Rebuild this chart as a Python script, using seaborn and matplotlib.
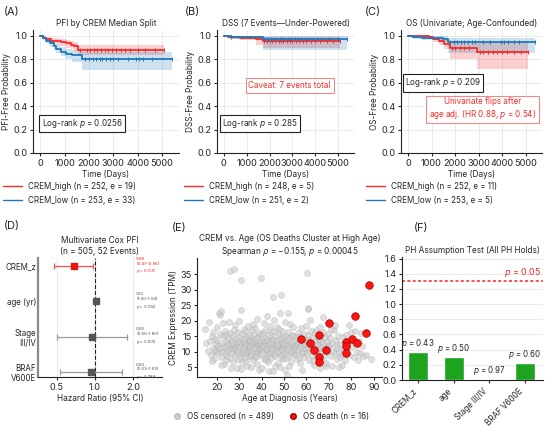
import numpy as np
import pandas as pd
import matplotlib
matplotlib.use("Agg")
import matplotlib.pyplot as plt
from matplotlib.lines import Line2D
import seaborn as sns

# ---------------- data ----------------
# (A) PFI Kaplan-Meier
pfi_high_t = [0, 100, 250, 450, 650, 850, 1050, 1250, 1400, 1550]
pfi_high_s = [1.0, 0.985, 0.97, 0.96, 0.955, 0.945, 0.935, 0.925, 0.91, 0.88]
pfi_high_lo = [1.0, 0.97, 0.95, 0.935, 0.925, 0.912, 0.90, 0.888, 0.872, 0.84]
pfi_high_hi = [1.0, 1.0, 0.99, 0.984, 0.981, 0.975, 0.968, 0.96, 0.948, 0.922]
pfi_high_cens = [1650, 1900, 2050, 2200, 2350, 2500, 2650, 2800, 2950, 3100, 3300, 3500, 3700, 4000, 4300, 4700, 5100]
pfi_low_t = [0, 100, 250, 400, 550, 650, 850, 1050, 1300, 1700]
pfi_low_s = [1.0, 0.98, 0.96, 0.935, 0.91, 0.89, 0.865, 0.845, 0.835, 0.80]
pfi_low_lo = [1.0, 0.963, 0.937, 0.906, 0.877, 0.853, 0.825, 0.803, 0.78, 0.71]
pfi_low_hi = [1.0, 0.995, 0.982, 0.962, 0.942, 0.925, 0.905, 0.888, 0.88, 0.862]
pfi_low_cens = [1850, 2000, 2150, 2300, 2450, 2550, 2700, 2850, 3000, 3200, 3600, 3950, 4050, 4200, 4600, 5400]

# (B) DSS
dss_high_t = [0, 200, 700, 1400, 1700]
dss_high_s = [1.0, 0.992, 0.984, 0.972, 0.96]
dss_high_lo = [1.0, 0.977, 0.962, 0.925, 0.90]
dss_high_hi = [1.0, 1.0, 1.0, 0.995, 0.99]
dss_high_cens = [1750, 1900, 2000, 2100, 2250, 2400, 2500, 2600, 2750, 2900, 3000, 3150, 3300, 3450, 3600, 3800, 4000, 4200, 4500, 4800, 5100]
dss_low_t = [0, 300, 1700]
dss_low_s = [1.0, 0.992, 0.976]
dss_low_lo = [1.0, 0.977, 0.88]
dss_low_hi = [1.0, 1.0, 0.995]
dss_low_cens = [300, 1750, 1850, 1950, 2050, 2150, 2300, 2450, 2550, 2650, 2800, 2950, 3100, 3250, 3400, 3550, 3700, 3900, 4100, 4300, 4600, 5000, 5400]

# (C) OS
os_high_t = [0, 150, 900, 1050, 1300, 1550, 1800, 2950]
os_high_s = [1.0, 0.995, 0.99, 0.972, 0.955, 0.928, 0.895, 0.86]
os_high_lo = [1.0, 0.985, 0.975, 0.948, 0.925, 0.89, 0.80, 0.72]
os_high_hi = [1.0, 1.0, 1.0, 0.99, 0.982, 0.962, 0.94, 0.935]
os_high_cens = [1850, 2000, 2200, 2400, 2600, 3050, 3200, 3400, 3600, 3800, 4000, 4200, 4500, 4800, 5100]
os_low_t = [0, 200, 600, 1500, 1700]
os_low_s = [1.0, 0.99, 0.984, 0.975, 0.945]
os_low_lo = [1.0, 0.975, 0.965, 0.95, 0.855]
os_low_hi = [1.0, 1.0, 1.0, 0.997, 0.985]
os_low_cens = [1800, 1950, 2100, 2250, 2400, 2550, 2700, 2850, 3200, 3500, 3950, 4100, 4250, 4500, 4700, 5400]

high_end, low_end = 5100, 5400

legend_A = ["CREM_high (n = 252, e = 19)", "CREM_low (n = 253, e = 33)"]
legend_B = ["CREM_high (n = 248, e = 5)", "CREM_low (n = 251, e = 2)"]
legend_C = ["CREM_high (n = 252, e = 11)", "CREM_low (n = 253, e = 5)"]

# (D) multivariate Cox
cox_labels = ["CREM_z", "age (yr)", "Stage\nIII/IV", "BRAF\nV600E"]
cox_hr = [0.68, 1.02, 0.95, 0.93]
cox_lo = [0.47, 1.00, 0.50, 0.53]
cox_hi = [0.96, 1.04, 1.80, 1.63]
cox_p = ["0.031", "0.052", "0.872", "0.788"]

# (E) CREM vs age
cens_age = [15.5, 16.2, 16.7, 17.0, 17.5, 18.0, 18.4, 18.9, 19.2, 19.6, 19.9, 15.0, 17.8, 18.6, 19.4,
            20.1, 20.5, 20.8, 21.1, 21.4, 21.5, 21.8, 22.0, 22.3, 22.6, 22.9, 23.2, 23.4, 23.7, 23.9, 24.1, 24.4, 24.6, 24.9, 22.1, 20.3, 23.0, 24.2, 21.7, 24.8,
            25.1, 25.3, 25.6, 25.9, 26.0, 26.2, 26.5, 26.7, 26.9, 27.1, 27.3, 27.5, 27.8, 27.9, 28.1, 28.3, 28.5, 28.7, 28.9, 29.1, 29.3, 29.5, 29.7, 29.9, 25.4, 26.3, 27.6, 28.0, 29.0, 26.8,
            30.1, 30.3, 30.5, 30.7, 30.8, 30.9, 31.1, 31.3, 31.5, 31.7, 31.9, 32.1, 32.3, 32.5, 32.7, 32.9, 33.1, 33.3, 33.5, 33.7, 33.9, 34.1, 34.3, 34.5, 34.7, 34.9, 30.2, 31.0, 31.6, 32.2, 33.0, 33.8, 34.4, 34.8, 32.6,
            35.1, 35.3, 35.5, 35.7, 35.9, 36.1, 36.3, 36.5, 36.7, 36.9, 37.1, 37.3, 37.5, 37.7, 37.9, 38.1, 38.3, 38.5, 38.7, 38.9, 39.1, 39.3, 39.5, 39.6, 39.7, 39.9, 35.4, 36.0, 36.8, 37.6, 38.2, 38.8, 39.2, 35.8, 37.0,
            40.1, 40.3, 40.5, 40.7, 40.9, 41.1, 41.3, 41.5, 41.7, 41.9, 42.1, 42.3, 42.5, 42.7, 42.9, 43.1, 43.3, 43.5, 43.7, 43.9, 44.1, 44.3, 44.5, 44.7, 44.9, 40.4, 41.0, 41.8, 42.6, 43.2, 43.8, 44.4, 40.8, 42.2, 44.0,
            45.1, 45.2, 45.3, 45.5, 45.7, 45.9, 46.1, 46.3, 46.5, 46.7, 46.9, 47.1, 47.3, 47.5, 47.7, 47.9, 48.1, 48.3, 48.5, 48.6, 48.7, 48.9, 49.1, 49.3, 49.5, 49.7, 49.9, 45.6, 46.2, 47.0, 47.8, 48.4, 49.2, 46.8, 49.6,
            50.1, 50.3, 50.5, 50.7, 50.9, 51.1, 51.2, 51.3, 51.5, 51.6, 51.7, 51.9, 52.1, 52.3, 52.5, 52.7, 52.9, 53.1, 53.3, 53.5, 53.7, 53.9, 54.1, 54.3, 54.5, 54.7, 54.9, 50.6, 52.2, 53.8,
            55.1, 55.3, 55.5, 55.7, 55.9, 56.1, 56.3, 56.5, 56.7, 56.9, 57.1, 57.3, 57.5, 57.7, 57.9, 58.1, 58.2, 58.5, 58.7, 58.9, 59.1, 59.3, 59.5, 59.7, 59.9,
            60.1, 60.4, 60.6, 60.7, 60.3, 60.5, 60.8, 61.0, 61.3, 61.6, 61.9, 62.2, 62.5, 62.8, 63.1, 63.4, 63.7, 64.0, 64.3, 64.6, 64.9, 61.4, 62.9, 63.9, 64.5,
            65.1, 65.4, 65.7, 66.0, 66.3, 66.6, 66.9, 67.2, 67.3, 67.5, 67.8, 68.1, 68.4, 68.7, 69.0, 69.3, 69.6, 69.9, 66.2, 67.9, 68.8, 65.9,
            70.2, 70.6, 71.0, 71.4, 71.8, 72.2, 72.6, 73.0, 73.4, 73.8, 74.2, 74.6, 74.8, 71.2, 72.9, 73.6, 70.8, 74.4,
            75.1, 75.6, 76.1, 76.6, 77.1, 77.6, 78.1, 78.6, 79.1, 79.6, 75.9, 77.4, 78.9, 76.8,
            80.2, 80.7, 81.2, 81.8, 82.3, 82.8, 83.3, 83.9, 84.5, 85.2, 86.4, 88.6, 84.1, 81.5]
cens_expr = [12.8, 10.1, 19.7, 13.5, 8.9, 15.1, 11.2, 7.6, 14.0, 9.8, 12.3, 17.2, 6.9, 16.3, 10.6,
             13.8, 9.4, 11.9, 22.4, 15.6, 21.8, 23.1, 8.2, 12.7, 10.3, 14.9, 6.1, 11.5, 16.8, 9.1, 13.2, 7.4, 12.0, 10.8, 5.6, 17.9, 19.2, 15.3, 11.1, 8.7,
             14.4, 10.2, 12.6, 36.1, 8.0, 16.1, 11.3, 9.5, 13.7, 6.6, 12.2, 15.0, 36.7, 10.7, 18.6, 8.9, 11.8, 14.1, 4.8, 12.9, 9.9, 16.4, 7.7, 13.3, 19.4, 4.6, 17.1, 11.0, 10.4, 12.9,
             11.6, 14.6, 8.4, 33.1, 23.4, 12.4, 10.0, 15.8, 6.3, 13.0, 9.2, 17.4, 11.4, 12.8, 7.9, 14.8, 10.5, 16.6, 5.2, 12.1, 9.6, 13.9, 11.1, 15.4, 8.6, 12.5, 19.8, 4.3, 10.9, 14.2, 7.1, 18.2, 10.3, 13.4, 9.8,
             11.7, 14.3, 9.0, 16.9, 12.6, 7.3, 13.6, 10.6, 15.2, 8.1, 12.3, 17.6, 10.1, 13.1, 6.0, 11.9, 14.7, 9.4, 16.0, 12.0, 8.8, 13.8, 10.8, 33.9, 15.6, 11.3, 5.1, 19.0, 11.0, 8.5, 20.6, 4.2, 12.7, 13.2, 14.0,
             12.2, 9.7, 15.9, 11.4, 7.6, 13.5, 10.4, 17.0, 12.8, 8.3, 14.5, 11.0, 21.4, 9.1, 13.3, 6.8, 12.4, 15.3, 10.0, 18.4, 11.6, 8.0, 14.1, 12.0, 27.7, 4.6, 19.3, 10.9, 13.9, 3.6, 9.5, 16.2, 11.8, 7.2, 13.0,
             10.7, 3.6, 13.7, 9.3, 16.5, 12.1, 8.7, 14.9, 11.2, 18.0, 9.9, 13.4, 6.4, 12.6, 15.7, 10.3, 22.5, 11.5, 8.2, 28.2, 14.3, 12.9, 9.0, 16.7, 11.1, 7.5, 13.6, 20.1, 5.3, 11.9, 17.3, 4.9, 10.5, 12.3, 14.6,
             12.5, 4.1, 9.8, 15.1, 11.3, 7.9, 2.4, 13.9, 10.6, 22.6, 16.3, 12.0, 8.5, 14.4, 11.7, 18.8, 9.6, 13.1, 6.7, 12.2, 15.5, 10.2, 17.8, 11.4, 8.8, 13.8, 10.9, 19.6, 5.5, 14.9,
             11.8, 9.2, 14.7, 12.4, 7.7, 16.1, 10.5, 13.2, 8.4, 15.0, 11.6, 6.2, 12.9, 17.5, 10.0, 13.5, 4.1, 9.4, 15.8, 11.2, 8.1, 14.2, 12.1, 18.3, 10.8,
             13.0, 35.5, 23.8, 24.0, 9.7, 15.4, 11.5, 7.4, 13.7, 10.1, 16.6, 12.3, 8.9, 14.5, 11.0, 5.8, 13.3, 9.5, 17.1, 12.6, 10.4, 20.3, 6.9, 15.9, 8.3,
             12.2, 9.1, 14.0, 11.4, 7.0, 13.4, 10.2, 16.4, 21.1, 12.7, 8.6, 14.8, 11.1, 5.4, 13.1, 9.8, 15.6, 12.0, 18.0, 10.8, 6.4, 4.6,
             11.7, 14.3, 8.7, 12.8, 10.3, 16.9, 9.4, 13.6, 11.2, 7.6, 14.9, 10.0, 8.4, 5.2, 18.6, 12.2, 17.4, 4.9,
             12.4, 9.3, 14.6, 11.0, 7.2, 15.3, 10.6, 13.0, 8.9, 16.2, 5.7, 12.0, 18.7, 10.1,
             11.5, 14.1, 8.2, 12.7, 10.0, 7.3, 13.5, 9.4, 11.8, 8.6, 9.0, 7.7, 15.9, 16.8]
death_age = [57.6, 61.6, 63.5, 65.6, 65.6, 65.6, 68.6, 69.8, 77.6, 77.6, 77.6, 80.4, 81.6, 82.7, 86.7, 87.8]
death_expr = [14.2, 12.7, 10.6, 15.4, 8.1, 6.5, 10.6, 19.1, 13.0, 11.8, 9.7, 14.0, 21.5, 12.9, 16.1, 31.5]

# (F) PH assumption test
ph_cov = ["CREM_z", "age", "Stage III/IV", "BRAF V600E"]
ph_p = [0.43, 0.50, 0.97, 0.60]

RED = "#f42a2a"
BLUE = "#1f78b8"
GREEN = "#1ea31e"
W, H = 550, 428

sns.set_style("whitegrid", {"grid.color": "#e8e8e8", "axes.edgecolor": "#222222",
                            "xtick.bottom": True, "ytick.left": True})
plt.rcParams['font.family'] = ['Inter', 'DejaVu Sans']
plt.rcParams.update({"font.size": 5.8, "axes.titlesize": 5.9, "axes.labelsize": 5.9,
                     "xtick.labelsize": 6.6, "ytick.labelsize": 6.6,
                     "xtick.major.size": 2.5, "ytick.major.size": 2.5,
                     "xtick.major.pad": 2, "ytick.major.pad": 1.5,
                     "axes.linewidth": 0.8, "grid.linewidth": 0.6, "axes.titlepad": 3,
                     "axes.labelpad": 1.5})

fig = plt.figure(figsize=(5.5, 4.28), dpi=100)


def add_ax(l, r, t, b):
    return fig.add_axes([l / W, 1 - b / H, (r - l) / W, (b - t) / H])


def draw_km(ax, groups):
    for t, s, lo, hi, cens, end, col in groups:
        tt = t + [end]
        ax.fill_between(tt, lo + [lo[-1]], hi + [hi[-1]], step="post", color=col, alpha=0.22, lw=0)
        sns.lineplot(x=tt, y=s + [s[-1]], drawstyle="steps-post", color=col, lw=1.3,
                     estimator=None, ax=ax)
        cy = [s[np.searchsorted(t, c, side="right") - 1] for c in cens]
        ax.plot(cens, cy, ls="none", marker="|", ms=3.2, mew=0.7, color=col)
    ax.set_xlim(-300, 5700)
    ax.set_ylim(0, 1.05)
    ax.set_xticks([0, 1000, 2000, 3000, 4000, 5000])
    ax.set_yticks([0, 0.2, 0.4, 0.6, 0.8, 1.0])
    ax.set_xlabel("Time (Days)")
    sns.despine(ax=ax)


def km_legend(x, labels):
    handles = [Line2D([], [], color=RED, lw=1.0), Line2D([], [], color=BLUE, lw=1.0)]
    fig.legend(handles, labels, loc="upper left", bbox_to_anchor=(x / W, 1 - 182 / H),
               frameon=False, fontsize=5.8, handlelength=2.4, handletextpad=0.7,
               labelspacing=0.6, borderaxespad=0, borderpad=0)


box_k = dict(boxstyle="square,pad=0.3", fc="white", ec="#222222", lw=0.8)
box_r = dict(boxstyle="square,pad=0.35", fc="white", ec="#f08a8a", lw=0.8)

# ---- (A) ----
axA = add_ax(33, 179, 30, 153)
draw_km(axA, [(pfi_high_t, pfi_high_s, pfi_high_lo, pfi_high_hi, pfi_high_cens, high_end, RED),
              (pfi_low_t, pfi_low_s, pfi_low_lo, pfi_low_hi, pfi_low_cens, low_end, BLUE)])
axA.set_title("PFI by CREM Median Split")
axA.set_ylabel("PFI-Free Probability")
axA.text(0.06, 0.24, "Log-rank $p$ = 0.0256", transform=axA.transAxes, va="center", bbox=box_k)
km_legend(3, legend_A)

# ---- (B) ----
axB = add_ax(217, 354, 30, 153)
draw_km(axB, [(dss_high_t, dss_high_s, dss_high_lo, dss_high_hi, dss_high_cens, high_end, RED),
              (dss_low_t, dss_low_s, dss_low_lo, dss_low_hi, dss_low_cens, low_end, BLUE)])
axB.set_title("DSS (7 Events\u2014Under-Powered)")
axB.set_ylabel("DSS-Free Probability")
axB.text(0.04, 0.24, "Log-rank $p$ = 0.285", transform=axB.transAxes, va="center", bbox=box_k)
axB.text(0.53, 0.55, "Caveat: 7 events total", transform=axB.transAxes, ha="center",
         va="center", color=RED, bbox=box_r)
km_legend(184, legend_B)

# ---- (C) ----
axC = add_ax(401, 542, 30, 153)
draw_km(axC, [(os_high_t, os_high_s, os_high_lo, os_high_hi, os_high_cens, high_end, RED),
              (os_low_t, os_low_s, os_low_lo, os_low_hi, os_low_cens, low_end, BLUE)])
axC.set_title("OS (Univariate; Age-Confounded)")
axC.set_ylabel("OS-Free Probability")
axC.text(0.03, 0.57, "Log-rank $p$ = 0.209", transform=axC.transAxes, va="center", bbox=box_k)
axC.text(0.58, 0.36, "Univariate flips after\nage adj. (HR 0.88, $p$ = 0.54)",
         transform=axC.transAxes, ha="center", va="center", color=RED, bbox=box_r)
km_legend(366, legend_C)

# ---- (D) forest ----
axD = add_ax(38, 162, 258, 377)
ypos = np.arange(len(cox_labels))
for i in ypos:
    sig = i == 0
    col_m = "#ee1111" if sig else "#555555"
    col_l = "#f05050" if sig else "#9a9a9a"
    axD.errorbar(cox_hr[i], i, xerr=[[cox_hr[i] - cox_lo[i]], [cox_hi[i] - cox_hr[i]]],
                 fmt="s", color=col_m, ecolor=col_l, elinewidth=0.9, capsize=2.5,
                 capthick=0.9, ms=5, zorder=3)
    axD.text(2.12, i, f"{cox_hr[i]:.2f}\n({cox_lo[i]:.2f}\u2013{cox_hi[i]:.2f})\n$p$ = {cox_p[i]}",
             fontsize=3, va="center", ha="left",
             color=col_m if sig else "#444444", linespacing=1.3)
axD.axvline(1.0, color="#222222", ls="--", lw=0.8)
axD.set_xscale("log")
axD.set_xlim(0.354, 3.4)
axD.set_ylim(3.15, -0.23)
axD.set_xticks([0.5, 1.0, 2.0])
axD.set_xticklabels(["0.5", "1.0", "2.0"])
axD.minorticks_off()
axD.set_yticks(ypos)
axD.set_yticklabels(cox_labels, fontsize=5.7)
axD.tick_params(axis="y", length=0)
axD.grid(axis="y", visible=False)
axD.set_xlabel("Hazard Ratio (95% CI)")
axD.set_title("Multivariate Cox PFI\n(n = 505, 52 Events)")
sns.despine(ax=axD)
axD.spines["left"].set_color("#8a8a8a")
axD.spines["left"].set_linewidth(1.6)

# ---- (E) scatter ----
axE = add_ax(197, 382, 258, 377)
sns.scatterplot(x=cens_age, y=cens_expr, color="#cbcbcb", s=19, alpha=0.6,
                edgecolor="#a8a8a8", linewidth=0.35, ax=axE)
sns.scatterplot(x=death_age, y=death_expr, color="#ff1414", s=30, edgecolor="#a00000",
                linewidth=0.5, zorder=3, ax=axE)
axE.set_xlim(11.3, 93.6)
axE.set_ylim(1.8, 40.2)
axE.set_xticks(range(20, 100, 10))
axE.set_yticks(range(5, 40, 5))
axE.grid(False)
axE.set_xlabel("Age at Diagnosis (Years)")
axE.set_ylabel("CREM Expression (TPM)")
axE.set_title("CREM vs. Age (OS Deaths Cluster at High Age)\n"
              "Spearman $\\rho$ = \u22120.155, $p$ = 0.00045")
sns.despine(ax=axE)
e_handles = [Line2D([], [], ls="none", marker="o", ms=4, color="#cfcfcf", mec="#bbbbbb"),
             Line2D([], [], ls="none", marker="o", ms=4, color="#ff1414", mec="#a00000")]
fig.legend(e_handles, ["OS censored (n = 489)", "OS death (n = 16)"], loc="center left",
           bbox_to_anchor=(169 / W, 1 - 416 / H), ncol=2, frameon=False, fontsize=5.8,
           handletextpad=0.2, columnspacing=1.4, borderaxespad=0, borderpad=0)

# ---- (F) PH test ----
axF = add_ax(402, 543, 257, 380)
ph_df = pd.DataFrame({"cov": ph_cov, "logp": -np.log10(ph_p)})
sns.barplot(data=ph_df, x="cov", y="logp", color=GREEN, width=0.56, saturation=1, ax=axF)
for i, (h, p) in enumerate(zip(ph_df["logp"], ph_p)):
    axF.text(i, h + 0.03, f"$p$ = {p:.2f}", ha="center", va="bottom", fontsize=5.7)
thr = -np.log10(0.05)
axF.axhline(thr, color=RED, ls=(0, (2, 1.5)), lw=1.1)
axF.text(3.45, thr + 0.03, "$p$ = 0.05", color=RED, ha="right", va="bottom", fontsize=6.4)
axF.set_xlim(-0.45, 3.5)
axF.set_ylim(0, 1.62)
axF.set_yticks(np.arange(0, 1.7, 0.2))
axF.set_yticklabels([f"{v:.1f}" for v in np.arange(0, 1.7, 0.2)])
axF.grid(axis="x", visible=False)
axF.set_xlabel("")
axF.set_ylabel("")
plt.setp(axF.get_xticklabels(), rotation=45, ha="right", fontsize=5.8)
axF.set_title("PH Assumption Test (All PH Holds)")
sns.despine(ax=axF)

# panel letters
for lab, x, y in [("(A)", 4, 12), ("(B)", 185, 12), ("(C)", 365, 12),
                  ("(D)", 4, 226), ("(E)", 172, 228), ("(F)", 414, 228)]:
    fig.text(x / W, 1 - y / H, lab, fontsize=8, va="center", ha="left")

fig.savefig("out.png", dpi=100)
